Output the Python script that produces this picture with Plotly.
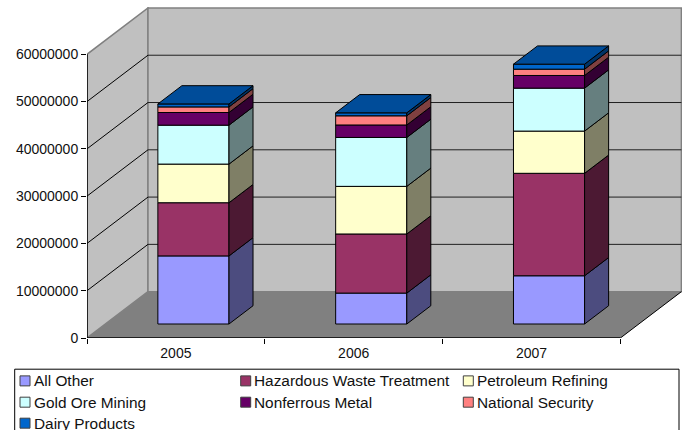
import plotly.graph_objects as go

years = ["2005", "2006", "2007"]
series_names = ["All Other", "Hazardous Waste Treatment", "Petroleum Refining", "Gold Ore Mining",
                "Nonferrous Metal", "National Security", "Dairy Products"]
colors = ["#9999FF", "#993366", "#FFFFCC", "#CCFFFF", "#660066", "#FF8080", "#0066CC"]

# values, one list per series (2005, 2006, 2007)
all_other = [14400000, 6540000, 10200000]
hazardous = [11250000, 12500000, 21670000]
petroleum = [8170000, 10070000, 8930000]
gold_ore = [8230000, 10340000, 9080000]
nonferrous = [2680000, 2640000, 2680000]
national_security = [1180000, 1940000, 1330000]
dairy = [630000, 630000, 1060000]
series_values = [all_other, hazardous, petroleum, gold_ore, nonferrous, national_security, dairy]

y_ticks = [0, 10000000, 20000000, 30000000, 40000000, 50000000, 60000000]
y_top = y_ticks[-1]

# fake 3D: a point at depth d (0 front, 1 back wall) is moved right and up
depth_x = 0.343
depth_y = 9800000
bar_width = 0.40
bar_front = 0.302
bar_back = 0.696

FONT = "Liberation Sans"
TEXT = "#111111"


def project(x, y, d):
    return x + d * depth_x, y + d * depth_y


def shade(hex_color, factor):
    r, g, b = [int(hex_color[i:i + 2], 16) for i in (1, 3, 5)]
    return "rgb(%d,%d,%d)" % (r * factor, g * factor, b * factor)


def polygon(points):
    return "M" + "L".join("%f,%f" % p for p in points) + "Z"


fig = go.Figure()

# walls and floor go below the traces as shapes
n = len(years)
shapes = []
side_wall = [project(0, 0, 0), project(0, y_top, 0), project(0, y_top, 1), project(0, 0, 1)]
back_wall = [project(0, 0, 1), project(0, y_top, 1), project(n, y_top, 1), project(n, 0, 1)]
floor = [project(0, 0, 0), project(n, 0, 0), project(n, 0, 1), project(0, 0, 1)]
shapes.append(dict(type="path", path=polygon(side_wall), fillcolor="#C0C0C0", line=dict(color="#808080", width=1.5)))
shapes.append(dict(type="path", path=polygon(back_wall), fillcolor="#C0C0C0", line=dict(color="#808080", width=1.5)))
shapes.append(dict(type="path", path=polygon(floor), fillcolor="#808080", line=dict(width=0)))

for tick in y_ticks[1:-1]:
    x0, y0 = project(0, tick, 0)
    x1, y1 = project(0, tick, 1)
    x2, y2 = project(n, tick, 1)
    shapes.append(dict(type="line", x0=x0, y0=y0, x1=x1, y1=y1, line=dict(color="black", width=1)))
    shapes.append(dict(type="line", x0=x1, y0=y1, x1=x2, y1=y2, line=dict(color="#202020", width=1)))

# floor edge on the right, x axis and y axis lines
x0, y0 = project(n, 0, 0)
x1, y1 = project(n, 0, 1)
shapes.append(dict(type="line", x0=x0, y0=y0, x1=x1, y1=y1, line=dict(color="black", width=1)))
shapes.append(dict(type="line", x0=0, y0=0, x1=n, y1=0, line=dict(color="black", width=1.5)))
shapes.append(dict(type="line", x0=0, y0=0, x1=0, y1=y_top, line=dict(color="black", width=1.5)))
shapes = [dict(s, layer="below") for s in shapes]

label_pos = [i + 0.5 for i in range(n)]
centers = [i + 0.495 for i in range(n)]
bottoms = [0] * n
for name, color, values in zip(series_names, colors, series_values):
    # front faces
    fig.add_trace(go.Bar(
        x=[c + bar_front * depth_x for c in centers],
        y=values,
        base=[b + bar_front * depth_y for b in bottoms],
        width=bar_width,
        name=name,
        marker=dict(color=color, line=dict(color="black", width=1)),
        showlegend=False,
    ))

    # right side faces
    xs, ys = [], []
    for c, b, v in zip(centers, bottoms, values):
        right = c + bar_width / 2
        corners = [project(right, b, bar_front), project(right, b, bar_back),
                   project(right, b + v, bar_back), project(right, b + v, bar_front)]
        xs += [p[0] for p in corners] + [corners[0][0], None]
        ys += [p[1] for p in corners] + [corners[0][1], None]
    fig.add_trace(go.Scatter(x=xs, y=ys, mode="lines", fill="toself", fillcolor=shade(color, 0.5),
                             line=dict(color="black", width=1), hoverinfo="skip", showlegend=False))
    bottoms = [b + v for b, v in zip(bottoms, values)]

# top faces of the last series
xs, ys = [], []
for c, b in zip(centers, bottoms):
    left = c - bar_width / 2
    right = c + bar_width / 2
    corners = [project(left, b, bar_front), project(right, b, bar_front),
               project(right, b, bar_back), project(left, b, bar_back)]
    xs += [p[0] for p in corners] + [corners[0][0], None]
    ys += [p[1] for p in corners] + [corners[0][1], None]
fig.add_trace(go.Scatter(x=xs, y=ys, mode="lines", fill="toself", fillcolor=shade(colors[-1], 0.75),
                         line=dict(color="black", width=1), hoverinfo="skip", showlegend=False))

# pixel layout of the page
WIDTH, HEIGHT = 682, 430
LEFT, BOTTOM_Y, PLOT_W, PLOT_H = 87, 338.3, 595, 331.1


def px(x):
    return (x - LEFT) / PLOT_W


def py(y):
    return (BOTTOM_Y - y) / PLOT_H


# Excel-style legend box: three columns, cut off by the bottom of the image
shapes.append(dict(type="rect", xref="paper", yref="paper", x0=px(14.7), x1=px(679), y0=py(369.5), y1=py(445),
                   fillcolor="white", line=dict(color="black", width=1)))
annotations = []
legend_cols = [20, 240.7, 463.3]
legend_rows = [381.2, 402.5, 423.5]
for i, (name, color) in enumerate(zip(series_names, colors)):
    lx = legend_cols[i % 3]
    ly = legend_rows[i // 3]
    shapes.append(dict(type="rect", xref="paper", yref="paper", x0=px(lx), x1=px(lx + 10),
                       y0=py(ly - 5), y1=py(ly + 5), fillcolor=color, line=dict(color="#404040", width=1)))
    annotations.append(dict(text=name, xref="paper", yref="paper", x=px(lx + 12.5), y=py(ly), xanchor="left",
                            yanchor="middle", showarrow=False, font=dict(family=FONT, size=15.4, color=TEXT),
                            borderpad=0))

fig.update_layout(
    width=WIDTH, height=HEIGHT,
    margin=dict(l=LEFT, r=WIDTH - LEFT - PLOT_W, t=BOTTOM_Y - PLOT_H, b=HEIGHT - BOTTOM_Y, pad=0),
    barmode="overlay",
    paper_bgcolor="white", plot_bgcolor="white",
    font=dict(family=FONT, size=14, color=TEXT),
    shapes=shapes,
    annotations=annotations,
    showlegend=False,
    xaxis=dict(range=[0, PLOT_W / 177.8], tickmode="array", tickvals=label_pos, ticktext=years,
               ticks="", showgrid=False, zeroline=False, showline=False, ticklabelstandoff=5,
               minor=dict(tickmode="array", tickvals=list(range(n + 1)), ticks="outside", ticklen=5,
                          tickcolor="black", tickwidth=1, showgrid=False)),
    yaxis=dict(range=[0, 70000000], tickmode="array", tickvals=y_ticks, tickformat="d",
               ticks="outside", ticklen=5, tickcolor="black", tickwidth=1,
               showgrid=False, zeroline=False, showline=False),
)

fig.write_html("out.html", post_script="document.body.style.margin='0';", config=dict(displayModeBar=False))
